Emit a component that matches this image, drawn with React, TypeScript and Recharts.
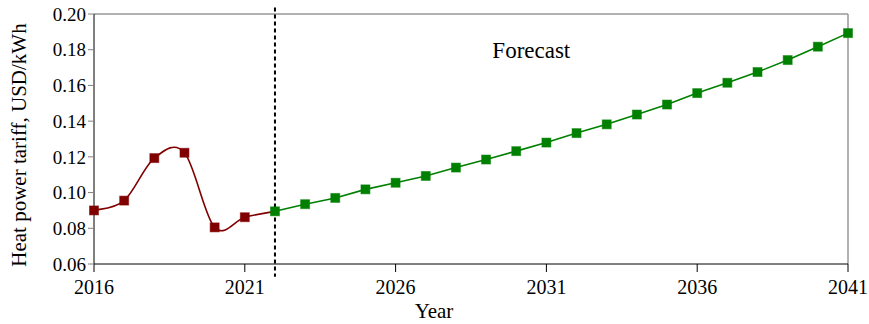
import React from "react";
import {
  Label,
  Line,
  LineChart,
  ReferenceDot,
  ReferenceLine,
  XAxis,
  YAxis,
} from "recharts";

// actual tariffs, 2016-2022 (last point joins the forecast)
const historyYears = [2016, 2017, 2018, 2019, 2020, 2021, 2022];
const historyTariff = [0.09, 0.0955, 0.1193, 0.1223, 0.0805, 0.0862, 0.0895];

// forecast, 2022-2041
const forecastYears = [
  2022, 2023, 2024, 2025, 2026, 2027, 2028, 2029, 2030, 2031, 2032, 2033,
  2034, 2035, 2036, 2037, 2038, 2039, 2040, 2041,
];
const forecastTariff = [
  0.0895, 0.0935, 0.097, 0.1018, 0.1055, 0.1093, 0.114, 0.1185, 0.1232,
  0.128, 0.1333, 0.1382, 0.1437, 0.1493, 0.1557, 0.1615, 0.1675, 0.1742,
  0.1817, 0.1893,
];

const xTicks = [2016, 2021, 2026, 2031, 2036, 2041];
const yTicks = [0.06, 0.08, 0.1, 0.12, 0.14, 0.16, 0.18, 0.2];

const historyData = historyYears.map((year, i) => ({ year, tariff: historyTariff[i] }));
const forecastData = forecastYears.map((year, i) => ({ year, tariff: forecastTariff[i] }));

const FONT = "'Liberation Serif', 'Times New Roman', serif";
const RED = "#800000";
const GREEN = "#008000";

// uniform Catmull-Rom spline through the points, like a spreadsheet "smoothed line"
function catmullRom(context: any) {
  let pts: number[][] = [];
  return {
    areaStart() {},
    areaEnd() {},
    lineStart() {
      pts = [];
    },
    point(x: number, y: number) {
      pts.push([+x, +y]);
    },
    lineEnd() {
      if (!pts.length) return;
      context.moveTo(pts[0][0], pts[0][1]);
      for (let i = 0; i < pts.length - 1; i++) {
        const p0 = pts[i - 1] || pts[i];
        const p1 = pts[i];
        const p2 = pts[i + 1];
        const p3 = pts[i + 2] || p2;
        context.bezierCurveTo(
          p1[0] + (p2[0] - p0[0]) / 6,
          p1[1] + (p2[1] - p0[1]) / 6,
          p2[0] - (p3[0] - p1[0]) / 6,
          p2[1] - (p3[1] - p1[1]) / 6,
          p2[0],
          p2[1]
        );
      }
    },
  };
}

function squareDot(color: string, skipLast = false) {
  return (props: any) => {
    const { cx, cy, index } = props;
    if (cx == null || cy == null) return null;
    if (skipLast && index === historyYears.length - 1) return <g key={index} />;
    return (
      <rect
        key={index}
        x={cx - 4.5}
        y={cy - 4.5}
        width={9}
        height={9}
        fill={color}
        stroke={color}
        strokeOpacity={0.5}
        strokeWidth={1}
      />
    );
  };
}

export default function App() {
  return (
    <div style={{ position: "absolute", left: 0, top: 0, background: "#fff" }}>
      <LineChart
        width={869}
        height={324}
        margin={{ top: 14, right: 21, bottom: 0, left: 0 }}
      >
        <XAxis
          dataKey="year"
          type="number"
          domain={[2016, 2041]}
          ticks={xTicks}
          allowDuplicatedCategory={false}
          height={60}
          stroke="#000"
          tickSize={8}
          tickMargin={8}
          tick={{ fill: "#000", fontSize: 20, fontFamily: FONT }}
        >
          <Label
            value="Year"
            position="center"
            dx={-37}
            dy={17}
            style={{ fill: "#000", fontSize: 21, fontFamily: FONT }}
          />
        </XAxis>
        <YAxis
          dataKey="tariff"
          type="number"
          domain={[0.06, 0.2]}
          ticks={yTicks}
          width={94}
          axisLine={{ stroke: "#000" }}
          tickLine={{ stroke: "#808080" }}
          tickSize={6}
          tickMargin={2}
          tickFormatter={(v: number) => v.toFixed(2)}
          tick={{ fill: "#000", fontSize: 19, fontFamily: FONT }}
        >
          <Label
            value="Heat power tariff, USD/kWh"
            angle={-90}
            position="center"
            dx={-28}
            dy={6}
            style={{ fill: "#000", fontSize: 21, fontFamily: FONT, textAnchor: "middle" }}
          />
        </YAxis>

        {/* frame on top and right */}
        <ReferenceLine y={0.2} stroke="#999" strokeWidth={1.5} />
        <ReferenceLine x={2041} stroke="#999" strokeWidth={1.5} />

        {/* start of the forecast period */}
        <ReferenceLine
          segment={[
            { x: 2022, y: 0.2036 },
            { x: 2022, y: 0.0529 },
          ]}
          ifOverflow="visible"
          stroke="#000"
          strokeWidth={2}
          strokeDasharray="4 3"
        />

        <Line
          data={historyData}
          dataKey="tariff"
          type={catmullRom as any}
          stroke={RED}
          strokeWidth={1.6}
          dot={squareDot(RED, true)}
          activeDot={false}
          isAnimationActive={false}
        />
        <Line
          data={forecastData}
          dataKey="tariff"
          type="linear"
          stroke={GREEN}
          strokeWidth={1.6}
          dot={squareDot(GREEN)}
          activeDot={false}
          isAnimationActive={false}
        />

        <ReferenceDot
          x={2030.5}
          y={0.18}
          r={0}
          fill="none"
          stroke="none"
          ifOverflow="visible"
        >
          <Label
            value="Forecast"
            position="center"
            style={{ fill: "#000", fontSize: 23, fontFamily: FONT }}
          />
        </ReferenceDot>
      </LineChart>
    </div>
  );
}
